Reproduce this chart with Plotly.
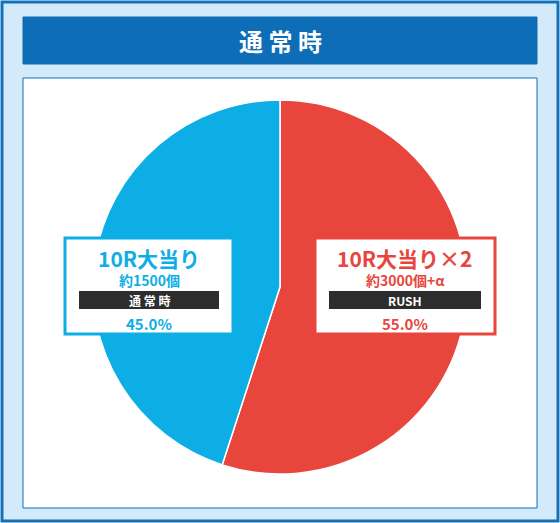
import plotly.graph_objects as go

labels = ["10R大当り×2", "10R大当り"]
values = [55.0, 45.0]
colors = ["#e8463d", "#0daee6"]
payouts = ["約3000個+α", "約1500個"]
modes = ["RUSH", "通 常 時"]
title = "通 常 時"

W, H = 560, 523
def px(x): return x / W
def py(y): return 1 - y / H

fig = go.Figure(go.Pie(
    labels=labels, values=values, sort=False, direction="clockwise", rotation=0,
    marker=dict(colors=colors, line=dict(color="white", width=1.5)),
    textinfo="none", hoverinfo="label+percent", showlegend=False,
    domain=dict(x=[px(93), px(467)], y=[py(474), py(100)]),
))

shapes = [
    dict(type="rect", xref="paper", yref="paper", x0=px(2), x1=px(558), y0=py(521), y1=py(2),
         fillcolor="#d2eaf9", line=dict(color="#1271b9", width=3), layer="below"),
    dict(type="rect", xref="paper", yref="paper", x0=px(23), x1=px(537), y0=py(64), y1=py(17),
         fillcolor="#0e6db7", line=dict(color="#0e6db7", width=1), layer="below"),
    dict(type="rect", xref="paper", yref="paper", x0=px(23), x1=px(537), y0=py(508), y1=py(78),
         fillcolor="white", line=dict(color="#1271b9", width=1), layer="below"),
]
boxes = [(315, 495), (65, 233)]
ann = [dict(text=f"<b>{title}</b>", x=0.5, y=py(41), font=dict(size=24, color="white"))]
for i in range(2):
    x0, x1 = boxes[i]
    cx = (x0 + x1) / 2
    c = colors[i]
    shapes.append(dict(type="rect", xref="paper", yref="paper", x0=px(x0), x1=px(x1), y0=py(334), y1=py(238),
                       fillcolor="white", line=dict(color=c, width=3)))
    shapes.append(dict(type="rect", xref="paper", yref="paper", x0=px(x0 + 14), x1=px(x1 - 14), y0=py(309), y1=py(291),
                       fillcolor="#2d2d2d", line=dict(width=0)))
    ann += [
        dict(text=f"<b>{labels[i]}</b>", x=px(cx), y=py(258), font=dict(size=21, color=c)),
        dict(text=f"<b>{payouts[i]}</b>", x=px(cx), y=py(280), font=dict(size=14, color=c)),
        dict(text=f"<b>{modes[i]}</b>", x=px(cx), y=py(300), font=dict(size=12, color="white")),
        dict(text=f"<b>{values[i]:.1f}%</b>", x=px(cx), y=py(323), font=dict(size=15, color=c)),
    ]
for a in ann:
    a.update(xref="paper", yref="paper", showarrow=False, xanchor="center", yanchor="middle")
    a["font"]["family"] = "Noto Sans CJK JP"

fig.update_layout(width=W, height=H, margin=dict(l=0, r=0, t=0, b=0),
                  paper_bgcolor="white", plot_bgcolor="white", shapes=shapes, annotations=ann)
fig.write_html("out.html", config=dict(responsive=False, displayModeBar=False),
               post_script="document.body.style.margin='0';document.body.style.overflow='hidden';")
